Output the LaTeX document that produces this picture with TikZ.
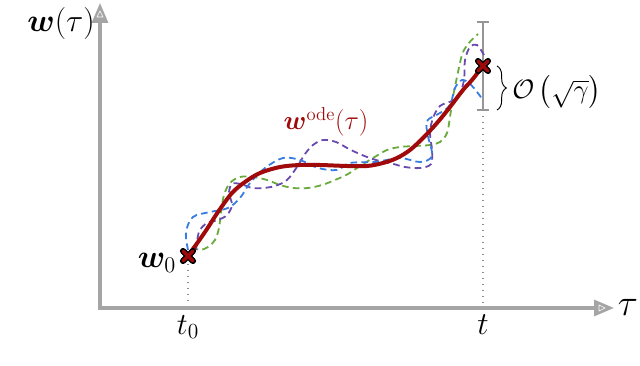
\documentclass[tikz,border=0pt]{standalone}
\usepackage{fix-cm}
\usepackage{amsmath,bm}
\usetikzlibrary{arrows.meta,decorations.pathreplacing,calc}
\definecolor{axisgray}{RGB}{165,165,165}
\definecolor{bargray}{RGB}{150,150,150}
\definecolor{dotgray}{RGB}{140,140,140}
\definecolor{odered}{RGB}{160,10,10}
\definecolor{cblue}{RGB}{55,125,225}
\definecolor{cgreen}{RGB}{105,170,60}
\definecolor{cpurple}{RGB}{105,75,175}
\tikzset{
  axisline/.style={draw=axisgray, line width=2.4pt,
    {Triangle[length=15pt,width=12pt,fill=axisgray]}-{Triangle[length=15pt,width=12pt,fill=axisgray]}},
  odeline/.style={draw=odered, line width=3pt, line cap=round},
  sdeline/.style={line width=1.35pt, dash pattern=on 5pt off 3.2pt},
  guide/.style={draw=dotgray, line width=1pt, dash pattern=on 1pt off 3.5pt},
  errbar/.style={draw=bargray, line width=2.2pt},
  lbl/.style={inner sep=0pt, font=\fontsize{24}{28}\selectfont},
}
\newcommand{\crossmark}[1]{%
  \draw[black, line width=4.6pt, line cap=round] ($(#1)+(-5,-5)$) -- ($(#1)+(5,5)$) ($(#1)+(-5,5)$) -- ($(#1)+(5,-5)$);
  \draw[odered, line width=2.6pt, line cap=round] ($(#1)+(-5,-5)$) -- ($(#1)+(5,5)$) ($(#1)+(-5,5)$) -- ($(#1)+(5,-5)$);
}
\begin{document}
\begin{tikzpicture}[x=0.75pt,y=-0.75pt]
\useasboundingbox (0,0) rectangle (640,366);
% axes
\coordinate (ytip) at (100,3);
\coordinate (origin) at (100,308);
\coordinate (xtip) at (614,308);
\draw[axisline] (ytip) -- (origin) -- (xtip);
\draw[white, line width=0.4pt] (97,17) -- (100,11) -- (103,17) -- cycle;
\draw[white, line width=0.4pt] (599,305) -- (605,308) -- (599,311) -- cycle;

% key points
\coordinate (w0pt) at (188,256);
\coordinate (wtpt) at (483,66);
\coordinate (t0base) at (188,305);
\coordinate (tbase) at (483,305);
\coordinate (bartop) at (483,22);
\coordinate (barbot) at (483,110);

% guides
\draw[guide] (188,264) -- (t0base);
\draw[guide] (483,116) -- (tbase);

% error bar
\draw[errbar] (bartop) -- (barbot);
\draw[errbar] (477,22) -- (489,22);
\draw[errbar] (477,110) -- (489,110);

% stochastic paths
\draw[sdeline, cgreen] plot[smooth, tension=0.55] coordinates {
(192,247) (200,250) (208,247) (215,240) (219,228) (221,212) (224,195) (230,183)
(240,177) (253,177) (267,180) (280,185) (293,188) (308,188) (322,185) (335,180)
(348,174) (360,166) (373,158) (387,150) (400,147) (415,146) (430,145) (440,142)
(447,133) (450,117) (453,97) (457,77) (462,55) (468,44) (478,34)};
\draw[sdeline, cpurple] plot[smooth, tension=0.55] coordinates {
(196,250) (199,232) (207,223) (218,220) (227,215) (232,205) (229,193) (232,184)
(241,184) (252,188) (263,188) (275,186) (287,180) (297,167) (305,154) (313,145)
(323,140) (336,142) (349,149) (362,155) (376,160) (390,163) (405,167) (420,168)
(431,164) (432,150) (430,133) (433,118) (440,106) (452,101) (459,96) (464,80)
(465,60) (470,47) (477,45) (484,55)};
\draw[sdeline, cblue] plot[smooth, tension=0.55] coordinates {
(188,250) (186,232) (193,217) (210,212) (228,208) (240,198) (250,183) (265,168)
(283,158) (300,160) (318,168) (337,170) (350,163) (375,162) (400,158) (420,162)
(432,156) (428,136) (427,121) (440,113) (450,105) (455,88) (462,80) (470,84)
(477,92) (483,100)};

% ODE path
\draw[odeline] plot[smooth, tension=0.55] coordinates {
(188,256) (205,232) (218,212) (232,193) (245,182) (260,173) (280,167) (300,165)
(320,165) (347,166) (367,166) (383,163) (397,158) (410,150) (423,138) (437,123)
(450,107) (463,90) (472,80) (483,66)};

% markers
\crossmark{w0pt}
\crossmark{wtpt}

% brace and label
\coordinate (brtop) at (497,66);
\coordinate (brbot) at (497,110);
\draw[black, line width=0.7pt, decoration={brace, amplitude=7pt}, decorate] (brtop) -- (brbot);
\node[lbl, anchor=west, font=\fontsize{20}{24}\selectfont] (order) at (512,92) {$\mathcal{O}\left(\sqrt{\gamma}\right)$};

% labels
\node[lbl] (wlab) at (61,24) {$\bm{w}(\tau)$};
\node[lbl] (w0lab) at (157,263) {$\bm{w}_0$};
\node[lbl, font=\fontsize{23}{26}\selectfont] (t0lab) at (188,327) {$t_0$};
\node[lbl, font=\fontsize{24}{26}\selectfont] (tlab) at (483,325) {$t$};
\node[lbl, font=\fontsize{28}{30}\selectfont] (taulab) at (628,307) {$\tau$};
\node[lbl, text=odered, font=\fontsize{20}{24}\selectfont] (odelab) at (326,122) {$\bm{w}^{\mathrm{ode}}(\tau)$};
\end{tikzpicture}
\end{document}
